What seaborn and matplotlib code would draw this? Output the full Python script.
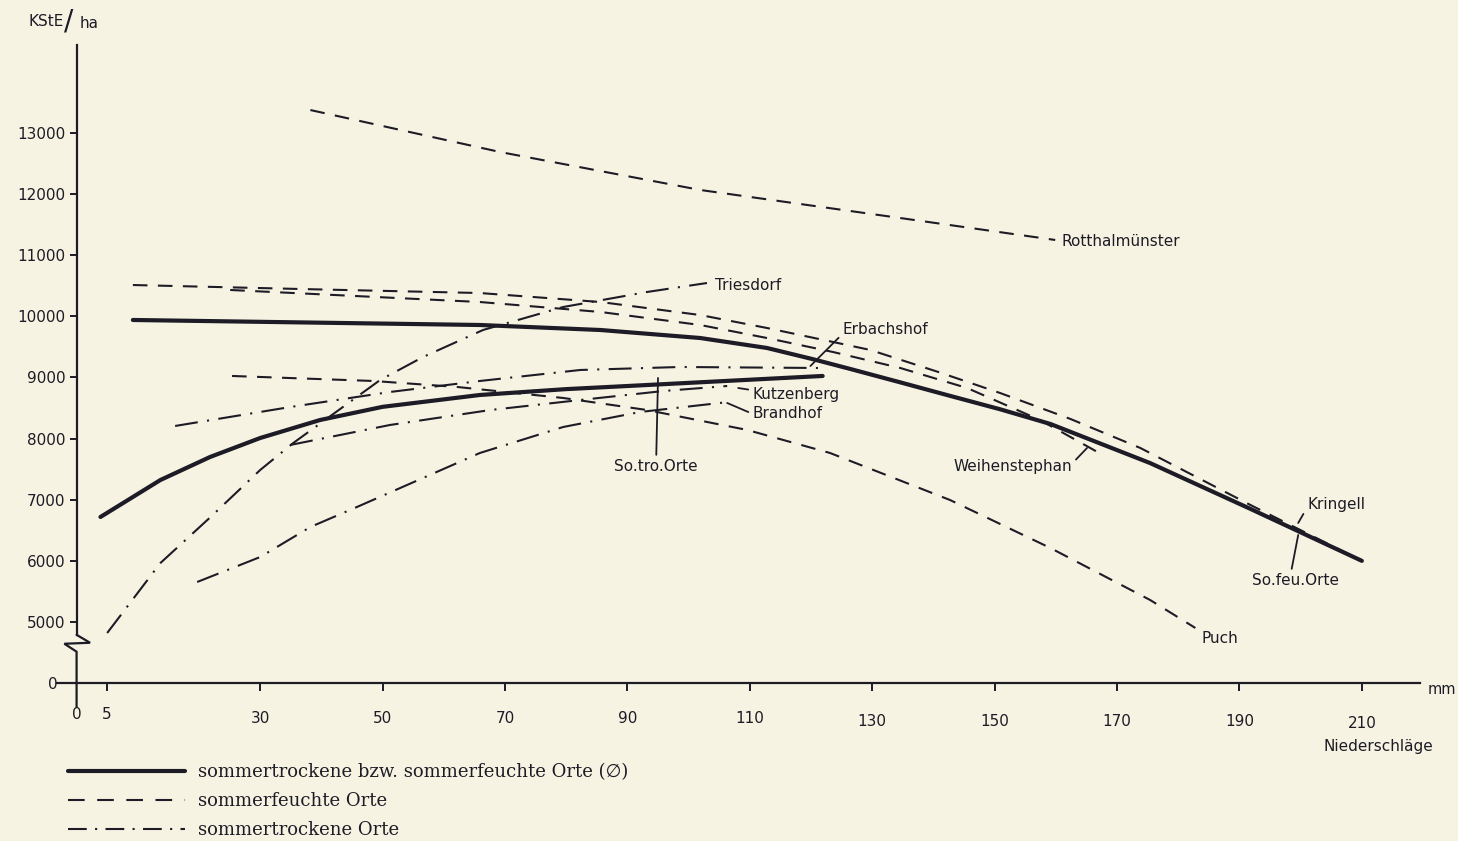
import numpy as np
import pandas as pd
import matplotlib
matplotlib.use("Agg")
import matplotlib.pyplot as plt
import matplotlib.transforms as mtransforms
from matplotlib.lines import Line2D
import seaborn as sns

# ---------------- data (Niederschläge mm, KStE/ha) ----------------
mittel_feucht_x = [9.2, 65.9, 85.6, 101.9, 112.8, 120.3, 126.4, 134.6, 142.7, 150.9, 159.1, 175.4, 191.8, 210.0]
mittel_feucht_y = [9941, 9859, 9777, 9646, 9483, 9300, 9140, 8920, 8700, 8480, 8240, 7600, 6850, 6000]

mittel_trocken_x = [3.9, 13.7, 21.8, 30.0, 39.8, 50.0, 65.9, 80.0, 93.2, 121.9]
mittel_trocken_y = [6718, 7323, 7699, 8010, 8305, 8520, 8714, 8810, 8877, 9025]

rotthal_x = [38.2, 69.2, 101.9, 134.6, 159.9]
rotthal_y = [13376, 12689, 12068, 11609, 11250]

kringell_x = [9.2, 36.5, 65.9, 85.6, 101.9, 112.8, 123.6, 129.7, 140.8, 150.9, 162.4, 173.8, 191.8, 210.0]
kringell_y = [10513, 10448, 10382, 10235, 10022, 9810, 9581, 9450, 9090, 8746, 8321, 7847, 6914, 6000]

weihen_x = [25.1, 65.9, 85.6, 101.9, 112.8, 123.6, 134.6, 145.5, 157.4, 166.8]
weihen_y = [10432, 10235, 10072, 9859, 9646, 9417, 9155, 8828, 8305, 7781]

puch_x = [25.4, 48.5, 62.2, 79.5, 93.2, 109.6, 123.1, 142.7, 159.1, 175.4, 182.8]
puch_y = [9025, 8943, 8845, 8665, 8468, 8141, 7765, 6996, 6211, 5360, 4902]

triesdorf_x = [5.0, 13.7, 21.9, 30.0, 35.4, 49.6, 56.6, 66.4, 79.5, 93.2, 103.0]
triesdorf_y = [4820, 5965, 6718, 7487, 7928, 8959, 9335, 9777, 10153, 10399, 10546]

erbachshof_x = [16.1, 34.9, 51.2, 65.9, 82.3, 98.6, 122.0]
erbachshof_y = [8207, 8517, 8763, 8943, 9123, 9172, 9155]

kutzenberg_x = [34.9, 51.2, 67.6, 82.3, 95.9, 106.3]
kutzenberg_y = [7896, 8223, 8468, 8632, 8779, 8861]

brandhof_x = [19.7, 30.0, 38.2, 45.8, 65.9, 79.5, 92.1, 106.5]
brandhof_y = [5654, 6063, 6554, 6881, 7765, 8190, 8436, 8599]

x_ticks = [0, 5, 30, 50, 70, 90, 110, 130, 150, 170, 190, 210]
y_ticks = [4000, 5000, 6000, 7000, 8000, 9000, 10000, 11000, 12000, 13000]
y_tick_labels = ["0", "5000", "6000", "7000", "8000", "9000", "10000", "11000", "12000", "13000"]

legend_labels = ["sommertrockene bzw. sommerfeuchte Orte (\u2205)",
                 "sommerfeuchte Orte",
                 "sommertrockene Orte"]

# ---------------- style ----------------
sns.set_theme(style="white")
plt.rcParams["font.family"] = ["DejaVu Sans"]
BG = "#f7f3e3"
INK = "#1d1c26"

fig = plt.figure(figsize=(14.58, 8.41), dpi=100, facecolor=BG)
ax = fig.add_axes([57 / 1458, 1 - 707 / 841, (1420 - 57) / 1458, (707 - 45) / 841])
ax.set_facecolor(BG)

DASH = (0, (7, 5))
DASHDOT = (0, (11, 4.5, 1, 4.5))
LW_SOLID = 3.0
LW_THIN = 1.5

series = [
    (mittel_feucht_x, mittel_feucht_y, "-", LW_SOLID),
    (mittel_trocken_x, mittel_trocken_y, "-", LW_SOLID),
    (rotthal_x, rotthal_y, DASH, LW_THIN),
    (kringell_x, kringell_y, DASH, LW_THIN),
    (weihen_x, weihen_y, DASH, LW_THIN),
    (puch_x, puch_y, DASH, LW_THIN),
    (triesdorf_x, triesdorf_y, DASHDOT, LW_THIN),
    (erbachshof_x, erbachshof_y, DASHDOT, LW_THIN),
    (kutzenberg_x, kutzenberg_y, DASHDOT, LW_THIN),
    (brandhof_x, brandhof_y, DASHDOT, LW_THIN),
]
for xs, ys, ls, lw in series:
    df = pd.DataFrame({"x": xs, "y": ys})
    sns.lineplot(data=df, x="x", y="y", ax=ax, color=INK, lw=lw, linestyle=ls,
                 sort=False, estimator=None, legend=False)

# ---------------- axes ----------------
ax.set_xlim(-3.2, 219.5)
ax.set_ylim(3609, 14440)
ax.set_xlabel("")
ax.set_ylabel("")
for s in ["top", "right"]:
    ax.spines[s].set_visible(False)
ax.spines["left"].set_position(("data", 0))
ax.spines["bottom"].set_position(("data", 4000))
ax.spines["left"].set_color(INK)
ax.spines["bottom"].set_color(INK)
ax.spines["left"].set_linewidth(1.6)
ax.spines["bottom"].set_linewidth(1.6)
# break in y axis
ax.spines["left"].set_bounds(4790, 14440)
ax.plot([0, 2.2, -2.0, 0, 0], [4790, 4660, 4644, 4514, 3609], color=INK, lw=1.6,
        clip_on=False, solid_joinstyle="miter")

ax.set_xticks(x_ticks)
ax.set_xticklabels([str(v) for v in x_ticks])
ax.set_yticks(y_ticks)
ax.set_yticklabels(y_tick_labels)
ax.tick_params(axis="x", direction="out", length=6, width=1.4, color=INK,
               labelsize=11, labelcolor=INK, pad=11, bottom=True)
ax.tick_params(axis="y", direction="out", length=5, width=1.4, color=INK,
               labelsize=11, labelcolor=INK, pad=3, left=True)
ax.grid(False)

# staggered x tick labels as in the original
offs = {0: 0, 5: 0, 30: 3, 50: 3, 70: 3, 90: 3, 110: 3, 130: 5, 150: 5, 170: 5, 190: 5, 210: 6.5}
for lbl, v in zip(ax.get_xticklabels(), x_ticks):
    lbl.set_transform(lbl.get_transform() +
                      mtransforms.ScaledTranslation(0, -offs[v] / 72, fig.dpi_scale_trans))
# "0" on y axis sits further left
ylbls = ax.get_yticklabels()
ylbls[0].set_transform(ylbls[0].get_transform() +
                       mtransforms.ScaledTranslation(-8 / 100, 0, fig.dpi_scale_trans))
ax.xaxis.get_major_ticks()[0].tick1line.set_visible(False)

# ---------------- labels on curves ----------------
FS = 11
def lab(text, xytext, xy=None, ha="left", va="center", relpos=(0.5, 0.5)):
    if xy is None:
        ax.text(xytext[0], xytext[1], text, ha=ha, va=va, fontsize=FS, color=INK)
    else:
        ax.annotate(text, xy=xy, xytext=xytext, ha=ha, va=va, fontsize=FS, color=INK,
                    arrowprops=dict(arrowstyle="-", color=INK, lw=1.3,
                                    shrinkA=1, shrinkB=0, relpos=relpos),
                    annotation_clip=False)

lab("Rotthalmünster", (161.0, 11233))
lab("Triesdorf", (104.3, 10513))
lab("Erbachshof", (125.2, 9793), xy=(119.9, 9188), relpos=(0, 0.2))
lab("Kutzenberg", (110.5, 8730), xy=(108.1, 8828), relpos=(0, 0.75))
lab("Brandhof", (110.5, 8403), xy=(106.3, 8583), relpos=(0, 0.5))
lab("So.tro.Orte", (94.7, 7536), xy=(95.0, 8992), ha="center", relpos=(0.5, 1))
lab("Weihenstephan", (152.9, 7536), xy=(165.1, 7847), ha="center", relpos=(1, 0.7))
lab("Kringell", (201.1, 6930), xy=(199.6, 6620), relpos=(0, 0.3))
lab("So.feu.Orte", (199.1, 5671), xy=(199.6, 6423), ha="center", relpos=(0.45, 1))
lab("Puch", (183.8, 4722))

# axis captions
fig.text(28 / 1458, 1 - 22 / 841, "KStE", fontsize=11, color=INK, ha="left", va="center")
fig.text(64 / 1458, 1 - 21 / 841, "/", fontsize=20, color=INK, ha="left", va="center")
fig.text(80 / 1458, 1 - 23 / 841, "ha", fontsize=11, color=INK, ha="left", va="center")
fig.text(1428 / 1458, 1 - 690 / 841, "mm", fontsize=10.5, color=INK, ha="left", va="center")
fig.text(1378 / 1458, 1 - 746 / 841, "Niederschläge", fontsize=11, color=INK,
         ha="center", va="center")

# ---------------- legend ----------------
handles = [Line2D([], [], color=INK, lw=LW_SOLID, linestyle="-"),
           Line2D([], [], color=INK, lw=LW_THIN, linestyle=(0, (8, 6))),
           Line2D([], [], color=INK, lw=LW_THIN, linestyle=(0, (9, 4, 1, 4)))]
leg = fig.legend(handles, legend_labels, loc="upper left",
                 bbox_to_anchor=(68 / 1458, 1 - 763 / 841),
                 frameon=False, handlelength=6.5, handletextpad=0.72,
                 labelspacing=0.62, borderpad=0, borderaxespad=0,
                 prop={"family": ["DejaVu Serif", "DejaVu Sans"], "size": 13})
for t in leg.get_texts():
    t.set_color(INK)

fig.savefig("out.png", dpi=100, facecolor=BG)
